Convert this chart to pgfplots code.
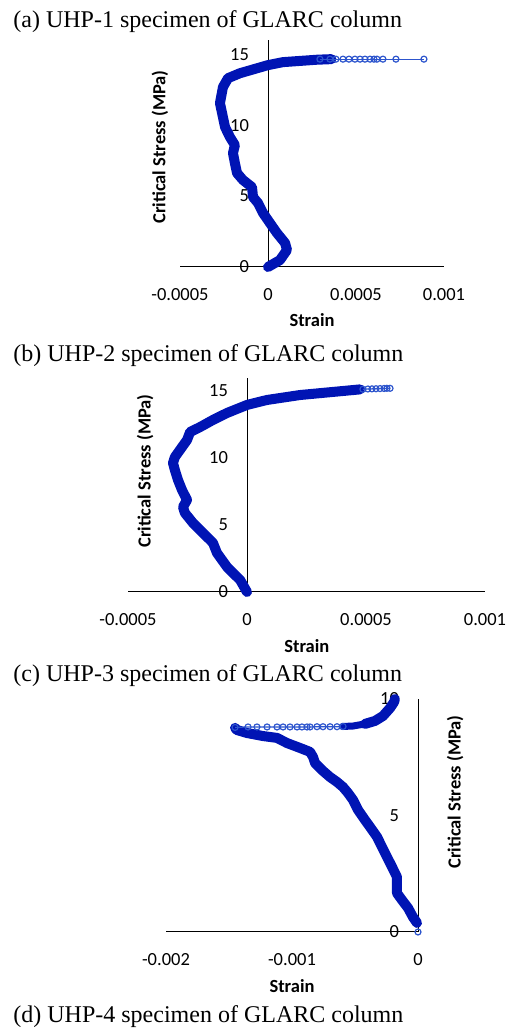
\documentclass[border=0pt]{standalone}
\usepackage{pgfplots}
\pgfplotsset{compat=1.18}
\usepackage{fontspec}
\setmainfont{Liberation Serif}
\newfontfamily\calibri{Carlito}
\definecolor{band}{RGB}{0,20,180}
\definecolor{tailc}{RGB}{45,85,205}
\pgfplotsset{
  strainax/.style={
    scale only axis,
    axis lines=middle,
    axis line style={-, black, line width=0.5pt},
    major tick length=0pt,
    tick style={draw=none},
    hide obscured x ticks=false,
    hide obscured y ticks=false,
    scaled x ticks=false,
    scaled y ticks=false,
    clip=false,
    xticklabel style={font=\calibri\fontsize{9.25}{11}\selectfont, anchor=north, yshift=-7pt},
    yticklabel style={font=\calibri\fontsize{9.25}{11}\selectfont, anchor=east, xshift=-6pt},
    label style={font=\calibri\bfseries\fontsize{9.25}{11}\selectfont},
  },
  bandplot/.style={color=band, line width=5pt, line join=round, line cap=round, mark=none},
  tailplot/.style={color=tailc, line width=0.6pt, mark=o, mark size=1.5pt, mark options={line width=0.6pt}},
}
\begin{document}
\begin{tikzpicture}
\path (0pt,0pt) rectangle (254.5pt,515pt);
\node[anchor=base west, inner sep=0pt, font=\fontsize{12}{14}\selectfont] at (6.5pt,501pt) {(a) UHP-1 specimen of GLARC column};
\node[anchor=base west, inner sep=0pt, font=\fontsize{12}{14}\selectfont] at (6.5pt,334pt) {(b) UHP-2 specimen of GLARC column};
\node[anchor=base west, inner sep=0pt, font=\fontsize{12}{14}\selectfont] at (6.5pt,174pt) {(c) UHP-3 specimen of GLARC column};
\node[anchor=base west, inner sep=0pt, font=\fontsize{12}{14}\selectfont] at (6.5pt,3.5pt) {(d) UHP-4 specimen of GLARC column};

% Panel (a)
\begin{axis}[strainax, at={(134pt,381.5pt)}, anchor=origin, width=132pt, height=113.5pt,
  xmin=-0.0005, xmax=0.001, ymin=0, ymax=16,
  xtick={-0.0005,0,0.0005,0.001}, xticklabels={-0.0005,0,0.0005,0.001},
  ytick={0,5,10,15}, yticklabels={0,5,10,15},
  xlabel={Strain}, ylabel={Critical Stress (MPa)},
  xlabel style={at={(axis description cs:0.5,-0.233)}, anchor=center},
  ylabel style={at={(axis description cs:-0.076,0.529)}, anchor=center, rotate=90}]
\addplot[bandplot] coordinates {
(0,0) (6.8e-5,0.49) (1.08e-4,1.20) (9.7e-5,1.69) (5.1e-5,2.39) (1.1e-5,3.10)
(-2.8e-5,3.80) (-5.7e-5,4.51) (-8.5e-5,4.93) (-9.1e-5,5.63) (-1.42e-4,6.13)
(-1.76e-4,6.62) (-1.88e-4,7.32) (-1.99e-4,8.03) (-1.88e-4,8.59) (-2.16e-4,9.15)
(-2.44e-4,9.86) (-2.61e-4,10.85) (-2.73e-4,11.55) (-2.56e-4,12.68) (-2.27e-4,13.31)
(-1.59e-4,13.66) (0,14.23) (8.5e-5,14.44) (2.78e-4,14.61) (3.6e-4,14.65)
};
\addplot[tailplot] coordinates {
(2.95e-4,14.65) (3.52e-4,14.65) (3.86e-4,14.65) (4.26e-4,14.65) (4.60e-4,14.65)
(4.94e-4,14.65) (5.23e-4,14.65) (5.51e-4,14.65) (5.80e-4,14.65) (6.02e-4,14.65)
(6.19e-4,14.65) (6.53e-4,14.65) (7.27e-4,14.65) (8.86e-4,14.65)
};
\end{axis}

% Panel (b)
\begin{axis}[strainax, at={(123.5pt,219pt)}, anchor=origin, width=178.5pt, height=107.2pt,
  xmin=-0.0005, xmax=0.001, ymin=0, ymax=16,
  xtick={-0.0005,0,0.0005,0.001}, xticklabels={-0.0005,0,0.0005,0.001},
  ytick={0,5,10,15}, yticklabels={0,5,10,15},
  xlabel={Strain}, ylabel={Critical Stress (MPa)},
  xlabel style={at={(axis description cs:0.501,-0.252)}, anchor=center},
  ylabel style={at={(axis description cs:0.048,0.564)}, anchor=center, rotate=90}]
\addplot[bandplot] coordinates {
(0,0) (-2.9e-5,0.90) (-5.9e-5,1.42) (-8.4e-5,1.87) (-1.05e-4,2.39) (-1.26e-4,2.91)
(-1.43e-4,3.66) (-1.55e-4,3.88) (-1.85e-4,4.40) (-2.27e-4,5.15) (-2.61e-4,5.90)
(-2.69e-4,6.34) (-2.52e-4,6.87) (-2.73e-4,7.61) (-2.90e-4,8.36) (-3.03e-4,9.10)
(-3.11e-4,9.63) (-3.03e-4,10.07) (-2.73e-4,10.82) (-2.52e-4,11.34) (-2.39e-4,11.94)
(-1.97e-4,12.31) (-1.43e-4,12.84) (-8.4e-5,13.36) (0,13.96) (8.4e-5,14.33)
(2.23e-4,14.70) (3.61e-4,14.93) (4.75e-4,15.12)
};
\addplot[tailplot] coordinates {
(4.87e-4,15.13) (5.08e-4,15.15) (5.25e-4,15.16) (5.42e-4,15.17) (5.59e-4,15.18)
(5.76e-4,15.19) (5.88e-4,15.20) (6.01e-4,15.20)
};
\end{axis}

% Panel (c)
\begin{axis}[strainax, at={(209pt,49pt)}, anchor=origin, width=126pt, height=116.5pt,
  xmin=-0.002, xmax=0, ymin=0, ymax=10,
  xtick={-0.002,-0.001,0}, xticklabels={-0.002,-0.001,0},
  ytick={0,5,10}, yticklabels={0,5,10},
  xlabel={Strain}, ylabel={Critical Stress (MPa)},
  xlabel style={at={(axis description cs:0.5,-0.232)}, anchor=center},
  ylabel style={at={(axis description cs:1.147,0.601)}, anchor=center, rotate=90}]
\addplot[bandplot] coordinates {
(-0.8e-5,0.39) (-4.0e-5,0.64) (-7.9e-5,1.03) (-1.27e-4,1.37) (-1.67e-4,1.67)
(-1.67e-4,2.10) (-1.67e-4,2.36) (-2.06e-4,2.79) (-2.46e-4,3.22) (-2.86e-4,3.65)
(-3.25e-4,4.08) (-3.81e-4,4.51) (-4.21e-4,4.81) (-4.76e-4,5.24) (-5.16e-4,5.67)
(-5.56e-4,5.97) (-5.95e-4,6.22) (-6.43e-4,6.44) (-6.98e-4,6.65) (-7.62e-4,6.95)
(-8.17e-4,7.25) (-8.33e-4,7.51) (-8.57e-4,7.73) (-9.37e-4,7.90) (-1.040e-3,8.11)
(-1.119e-3,8.33) (-1.230e-3,8.41) (-1.357e-3,8.54) (-1.437e-3,8.67) (-1.452e-3,8.76)
};
\addplot[tailplot] coordinates {
(-1.452e-3,8.78) (-1.349e-3,8.80) (-1.278e-3,8.80) (-1.198e-3,8.80) (-1.119e-3,8.80)
(-1.071e-3,8.80) (-1.016e-3,8.80) (-0.960e-3,8.80) (-0.921e-3,8.80) (-0.881e-3,8.80)
(-0.857e-3,8.80) (-0.802e-3,8.81) (-0.754e-3,8.81) (-0.698e-3,8.81) (-0.643e-3,8.81)
(-0.595e-3,8.82)
};
\addplot[bandplot, line width=3.5pt] coordinates {
(-6.0e-4,8.82) (-5.16e-4,8.84) (-4.21e-4,8.93)
};
\addplot[bandplot] coordinates {
(-4.21e-4,8.93) (-3.41e-4,9.06) (-2.78e-4,9.27) (-2.22e-4,9.61) (-1.90e-4,9.87) (-1.83e-4,10.0)
};
\addplot[tailplot] coordinates {(0,0)};
\end{axis}
\end{tikzpicture}
\end{document}
